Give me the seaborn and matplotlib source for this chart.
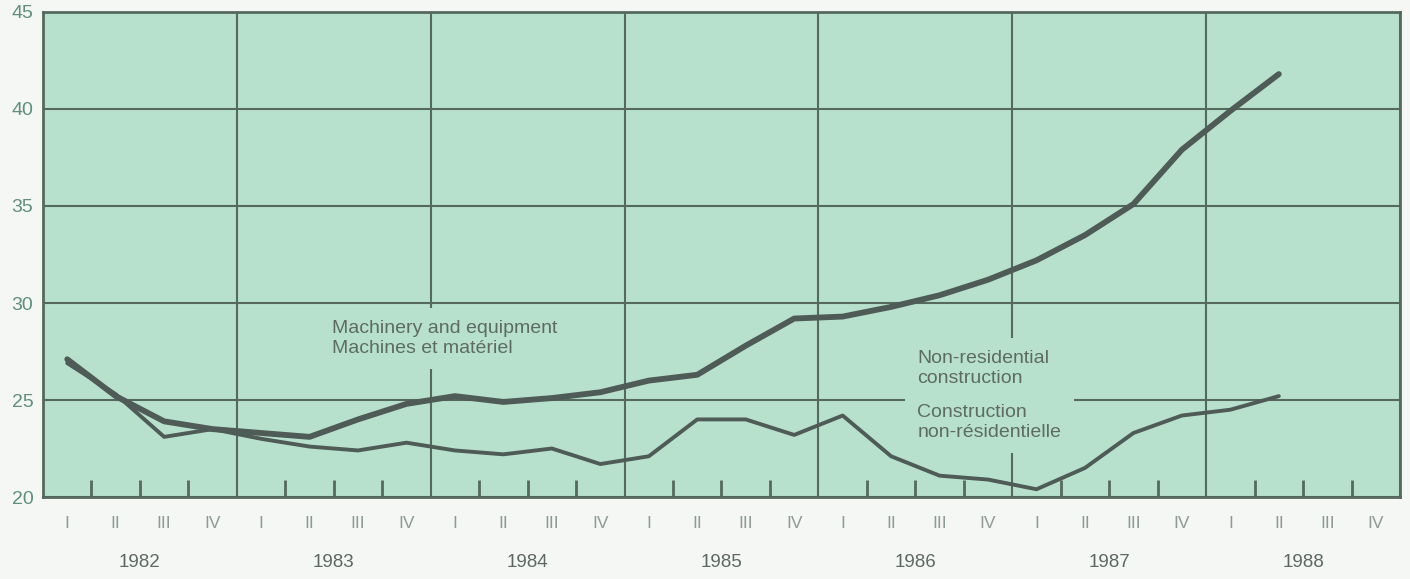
import matplotlib
matplotlib.use('Agg')
import matplotlib.pyplot as plt
import numpy as np
import pandas as pd
import seaborn as sns

# quarterly series, 1982 Q1 .. 1988 Q2
years = [1982, 1983, 1984, 1985, 1986, 1987, 1988]
quarter_labels = ['I', 'II', 'III', 'IV']
machinery = [27.1, 25.2, 23.9, 23.5, 23.3, 23.1,
             24.0, 24.8, 25.2, 24.9, 25.1, 25.4,
             26.0, 26.3, 27.8, 29.2, 29.3, 29.8,
             30.4, 31.2, 32.2, 33.5, 35.1, 37.9,
             39.9, 41.8]
non_residential = [26.9, 25.3, 23.1, 23.5, 23.0, 22.6,
                   22.4, 22.8, 22.4, 22.2, 22.5, 21.7,
                   22.1, 24.0, 24.0, 23.2, 24.2, 22.1,
                   21.1, 20.9, 20.4, 21.5, 23.3, 24.2,
                   24.5, 25.2]

n = len(machinery)
period = [years[i // 4] + (i % 4 + 0.5) / 4 for i in range(n)]
df = pd.DataFrame({'period': period,
                   'machinery': machinery,
                   'non_residential': non_residential})

bg = '#b7e1cd'
grid_col = '#56695f'
line_col = '#4f5b56'
text_col = '#5e6b65'

sns.set_style('white')
plt.rcParams['font.family'] = ['Liberation Sans', 'DejaVu Sans']

fig = plt.figure(figsize=(14.1, 5.79), dpi=100)
fig.patch.set_facecolor('#f5f7f5')
ax = fig.add_axes([0.0305, 0.1416, 0.9624, 0.8377])
ax.set_facecolor(bg)

sns.lineplot(data=df, x='period', y='machinery', color=line_col,
             linewidth=4.2, ax=ax, zorder=4)
sns.lineplot(data=df, x='period', y='non_residential', color=line_col,
             linewidth=2.8, ax=ax, zorder=4)

ax.set_xlim(years[0], years[-1] + 1)
ax.set_ylim(20, 45)

# year boundaries as major gridlines, quarter centres carry I..IV labels
ax.set_xticks(np.arange(years[0], years[-1] + 2))
ax.set_xticklabels([])
all_q = [y + (q + 0.5) / 4 for y in years for q in range(4)]
ax.set_xticks(all_q, minor=True)
ax.set_xticklabels(quarter_labels * len(years), minor=True)
ax.set_yticks([20, 25, 30, 35, 40, 45])
ax.tick_params(axis='x', which='both', length=0)
ax.tick_params(axis='x', which='minor', pad=14, labelsize=12.5,
               labelcolor='#8f9a95')
ax.tick_params(axis='y', length=0, pad=7, labelsize=14,
               labelcolor='#5f8f7d')
ax.grid(True, which='major', color=grid_col, linewidth=1.5)
ax.set_axisbelow(True)
ax.set_xlabel('')
ax.set_ylabel('')
for s in ax.spines.values():
    s.set_color(grid_col)
    s.set_linewidth(2)

# short inner tick marks at quarter boundaries
qb = [y + q / 4 for y in years for q in (1, 2, 3)]
trans = ax.get_xaxis_transform()
ax.vlines(qb, 0, 0.036, transform=trans, color=grid_col, linewidth=2,
          zorder=3)

# year labels
for y in years:
    ax.text(y + 0.5, -0.134, str(y), transform=trans, ha='center',
            va='center', fontsize=13.5, color='#5d6864')

# series labels
box = dict(facecolor=bg, edgecolor='none', pad=9)
ax.text(1983.49, 28.17, 'Machinery and equipment\nMachines et matériel',
        fontsize=14, color=text_col, ha='left', va='center',
        linespacing=1.2, bbox=box, zorder=3)
ax.text(1986.51, 26.62, 'Non-residential\nconstruction',
        fontsize=14, color=text_col, ha='left', va='center',
        linespacing=1.2, bbox=box, zorder=3)
ax.text(1986.51, 23.85, 'Construction\nnon-résidentielle',
        fontsize=14, color=text_col, ha='left', va='center',
        linespacing=1.2, bbox=box, zorder=3)

fig.savefig('out.png', dpi=100, facecolor=fig.get_facecolor())
